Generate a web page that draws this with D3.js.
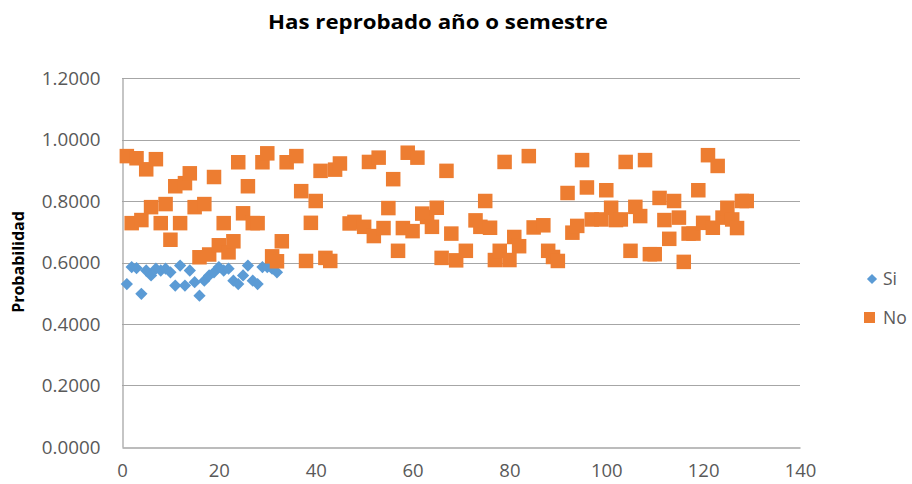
<!DOCTYPE html>
<html>
<head>
<meta charset="utf-8">
<script src="https://cdn.jsdelivr.net/npm/d3@7/dist/d3.min.js"></script>
<style>
  html, body { margin: 0; padding: 0; background: #fff; }
  svg { display: block; }
</style>
</head>
<body>
<svg id="chart" width="912" height="484"></svg>
<script>
// ---- Data ----
const title = "Has reprobado año o semestre";
const yAxisTitle = "Probabilidad";
const seriesNames = ["Si", "No"];

const siX = [1,2,3,4,5,6,7,8,9,10,11,12,13,14,15,16,17,18,19,20,21,22,23,24,25,26,27,28,29,30,31,32];
const siY = [0.530,0.585,0.582,0.498,0.574,0.558,0.580,0.574,0.580,0.568,0.525,0.590,0.525,0.574,0.536,0.492,
             0.541,0.558,0.568,0.585,0.574,0.580,0.541,0.530,0.558,0.590,0.541,0.530,0.585,0.585,0.580,0.568];

const noX = [1,2,3,4,5,6,7,8,9,10,11,12,13,14,15,16,17,18,19,20,21,22,23,24,25,26,27,28,29,30,31,32,33,34,
             36,37,38,39,40,41,42,43,44,45,47,48,50,51,52,53,54,55,56,57,58,59,60,61,62,63,64,65,66,67,68,69,
             71,73,74,75,76,77,78,79,80,81,82,84,85,87,88,89,90,92,93,94,95,96,97,99,100,101,102,103,104,105,
             106,107,108,109,110,111,112,113,114,115,116,117,118,119,120,121,122,123,124,125,126,127,128,129];
const noY = [0.946,0.728,0.939,0.738,0.903,0.780,0.936,0.728,0.790,0.674,0.848,0.728,0.858,0.890,0.780,0.617,0.790,
             0.626,0.878,0.656,0.728,0.633,0.669,0.926,0.760,0.848,0.728,0.728,0.926,0.955,0.620,0.604,0.669,0.926,
             0.946,0.832,0.605,0.729,0.800,0.898,0.615,0.605,0.902,0.922,0.727,0.732,0.716,0.927,0.686,0.941,0.712,
             0.777,0.871,0.638,0.712,0.957,0.702,0.941,0.759,0.748,0.716,0.778,0.615,0.898,0.694,0.607,
             0.638,0.737,0.716,0.800,0.713,0.608,0.638,0.927,0.608,0.683,0.653,0.946,0.714,0.721,0.638,0.618,0.605,
             0.826,0.697,0.719,0.933,0.844,0.740,0.740,0.835,0.778,0.738,0.740,0.927,0.638,
             0.781,0.751,0.933,0.627,0.627,0.810,0.738,0.677,0.800,0.746,0.602,0.694,0.694,0.835,0.729,0.949,0.713,
             0.914,0.746,0.778,0.740,0.712,0.800,0.800];

const xTicks = [0,20,40,60,80,100,120,140];
const yTicks = [0,0.2,0.4,0.6,0.8,1.0,1.2];

// ---- Layout ----
const svg = d3.select("#chart");
const plot = {left: 122, right: 800, top: 78, bottom: 447};
const colors = {Si: "#5B9BD5", No: "#ED7D31"};
const textColor = "#595959";
const fontFam = "'Open Sans', 'Liberation Sans', sans-serif";

const x = d3.scaleLinear().domain([0,140]).range([plot.left, plot.right]);
const y = d3.scaleLinear().domain([0,1.2]).range([plot.bottom, plot.top]);

// gridlines
svg.append("g").selectAll("line").data(yTicks.filter(d => d > 0)).join("line")
  .attr("x1", plot.left).attr("x2", plot.right)
  .attr("y1", d => Math.round(y(d)) + 0.5).attr("y2", d => Math.round(y(d)) + 0.5)
  .attr("stroke", "#a6a6a6").attr("stroke-width", 1);

// y axis
const yAxis = d3.axisLeft(y).tickValues(yTicks).tickFormat(d3.format(".4f")).tickSize(0).tickPadding(22);
const gy = svg.append("g").attr("transform", `translate(${plot.left + 0.5},0)`).call(yAxis);
gy.select(".domain").attr("stroke", "#a6a6a6").attr("stroke-width", 1.3);
gy.selectAll("text").attr("font-family", fontFam).attr("font-size", 18.8).attr("fill", textColor);

// x axis
const xAxis = d3.axisBottom(x).tickValues(xTicks).tickFormat(d3.format("d")).tickSize(0).tickPadding(16);
const gx = svg.append("g").attr("transform", `translate(0,${plot.bottom + 0.5})`).call(xAxis);
gx.select(".domain").attr("stroke", "#a6a6a6").attr("stroke-width", 1.3);
gx.selectAll("text").attr("font-family", fontFam).attr("font-size", 18.5).attr("fill", textColor);

// Si series: diamonds
const diamond = d3.symbol().type(d3.symbolDiamond2).size(96);
svg.append("g").selectAll("path").data(siX.map((d,i) => [d, siY[i]])).join("path")
  .attr("d", diamond)
  .attr("transform", d => `translate(${x(d[0])},${y(d[1])})`)
  .attr("fill", colors.Si);

// No series: squares
const sq = 14.5;
svg.append("g").selectAll("rect").data(noX.map((d,i) => [d, noY[i]])).join("rect")
  .attr("x", d => x(d[0]) - sq/2).attr("y", d => y(d[1]) - sq/2)
  .attr("width", sq).attr("height", sq)
  .attr("fill", colors.No);

// title
svg.append("text").attr("x", 438).attr("y", 29).attr("text-anchor", "middle")
  .attr("font-family", fontFam).attr("font-weight", "bold").attr("font-size", 20)
  .attr("textLength", 340).attr("lengthAdjust", "spacingAndGlyphs")
  .attr("fill", "#000").text(title);

// y axis title
svg.append("text").attr("transform", "translate(24,262) rotate(-90)").attr("text-anchor", "middle")
  .attr("font-family", fontFam).attr("font-weight", "bold").attr("font-size", 16)
  .attr("fill", "#000").text(yAxisTitle);

// legend
const lg = svg.append("g");
lg.append("path").attr("d", d3.symbol().type(d3.symbolDiamond2).size(66))
  .attr("transform", "translate(872,279)").attr("fill", colors.Si);
lg.append("text").attr("x", 883).attr("y", 285).attr("font-family", fontFam).attr("font-size", 17.5)
  .attr("fill", textColor).text(seriesNames[0]);
lg.append("rect").attr("x", 864).attr("y", 312).attr("width", 11).attr("height", 11).attr("fill", colors.No);
lg.append("text").attr("x", 883).attr("y", 324).attr("font-family", fontFam).attr("font-size", 17.5)
  .attr("fill", textColor).text(seriesNames[1]);
</script>
</body>
</html>
